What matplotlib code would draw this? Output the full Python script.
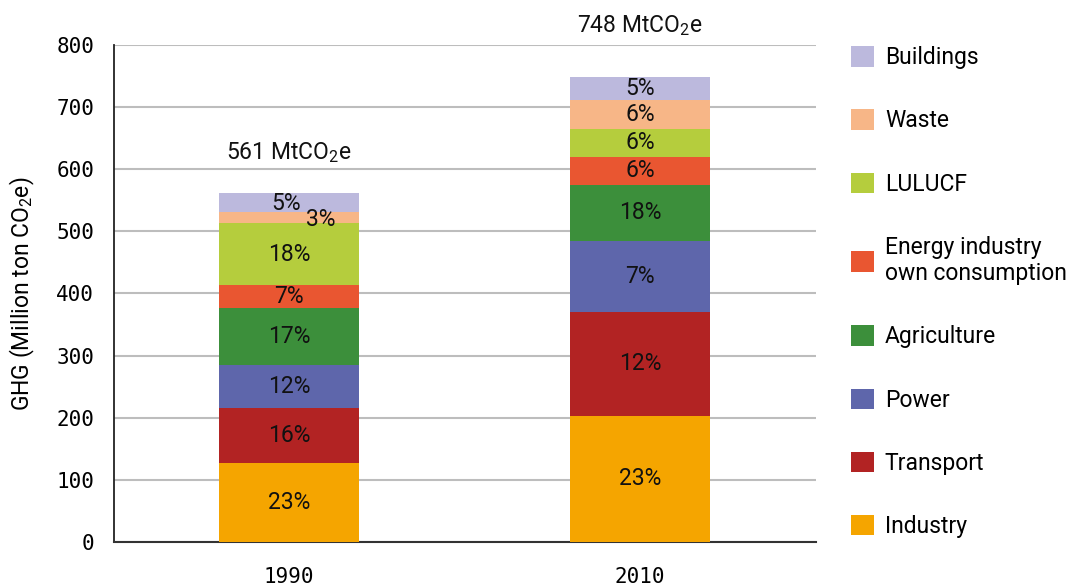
import matplotlib
matplotlib.use("Agg")
import matplotlib.pyplot as plt
from matplotlib.patches import Patch

plt.rcParams['font.family'] = ['Roboto', 'DejaVu Sans']
plt.rcParams['mathtext.fontset'] = 'custom'
plt.rcParams['mathtext.rm'] = 'Roboto'
plt.rcParams['mathtext.it'] = 'Roboto'

years = ["1990", "2010"]
categories = ["Industry", "Transport", "Power", "Agriculture",
              "Energy industry\nown consumption", "LULUCF", "Waste", "Buildings"]
values_1990 = [127.5, 88.6, 68.3, 92.2, 36.6, 100.3, 17.2, 30.7]
values_2010 = [203.2, 167.5, 113.8, 90.2, 45.1, 45.6, 45.7, 37.5]
pct_1990 = ["23%", "16%", "12%", "17%", "7%", "18%", "3%", "5%"]
pct_2010 = ["23%", "12%", "7%", "18%", "6%", "6%", "6%", "5%"]
totals_text = ["561 MtCO$_\\mathregular{2}$e", "748 MtCO$_\\mathregular{2}$e"]
yticks = [0, 100, 200, 300, 400, 500, 600, 700, 800]

colors = ["#f5a500", "#b22323", "#5e66ab", "#3c8f3b",
          "#e95631", "#b5cd3d", "#f7b687", "#bcb9dd"]

fig = plt.figure(figsize=(10.77, 5.86), dpi=100)
ax = fig.add_axes([0.1054, 0.0751, 0.7574 - 0.1054, 0.9232 - 0.0751])

series = [values_1990, values_2010]
pcts = [pct_1990, pct_2010]
x = list(range(len(years)))
fs = 16.5
tfs = 15

bottoms = [0.0, 0.0]
for i, cat in enumerate(categories):
    vals = [series[0][i], series[1][i]]
    ax.bar(x, vals, width=0.4, bottom=bottoms, color=colors[i],
           edgecolor='none', zorder=3, label=cat)
    for j in range(len(years)):
        cy = bottoms[j] + vals[j] / 2
        dx, dy = 0, 0
        if j == 0 and i == 6:
            dx, dy = 32, -2
        if j == 0 and i == 7:
            dx, dy = -3, -1
        ax.annotate(pcts[j][i], (x[j], cy), xytext=(dx, dy),
                    textcoords='offset pixels', ha='center', va='center',
                    fontsize=fs, color='#111111', zorder=5)
    bottoms = [bottoms[k] + vals[k] for k in range(2)]

label_offsets = [41, 51]
for j in range(len(years)):
    ax.annotate(totals_text[j], (x[j], bottoms[j]), xytext=(0, label_offsets[j]),
                textcoords='offset pixels', ha='center', va='center',
                fontsize=fs, color='#111111')

ax.set_xlim(-0.5, 1.5)
ax.set_ylim(0, 800)
ax.set_yticks(yticks)
ax.set_yticklabels([str(t) for t in yticks], fontsize=tfs, family='DejaVu Sans Mono')
ax.set_xticks(x)
ax.set_xticklabels(years, fontsize=tfs, family='DejaVu Sans Mono')
ax.tick_params(axis='y', length=0, pad=14)
ax.tick_params(axis='x', length=0, pad=18)
ax.yaxis.grid(True, color='#bdbdbd', linewidth=1.5, zorder=0)
ax.set_axisbelow(True)
for s in ['top', 'right']:
    ax.spines[s].set_visible(False)
ax.spines['left'].set_color('#222222')
ax.spines['left'].set_linewidth(1.3)
ax.spines['bottom'].set_color('#333333')
ax.spines['bottom'].set_linewidth(1.5)
ax.set_ylabel("GHG (Million ton CO$_\\mathregular{2}$e)", fontsize=fs, labelpad=14)

handles = [Patch(facecolor=colors[i], edgecolor='none', label=categories[i])
           for i in range(len(categories))][::-1]
leg = fig.legend(handles=handles, loc='upper left', bbox_to_anchor=(0.7905, 0.921),
                 frameon=False, fontsize=fs, handlelength=0.98, handleheight=0.99,
                 handletextpad=0.48, labelspacing=1.75, borderpad=0, borderaxespad=0)

fig.savefig("out.png", dpi=100)
